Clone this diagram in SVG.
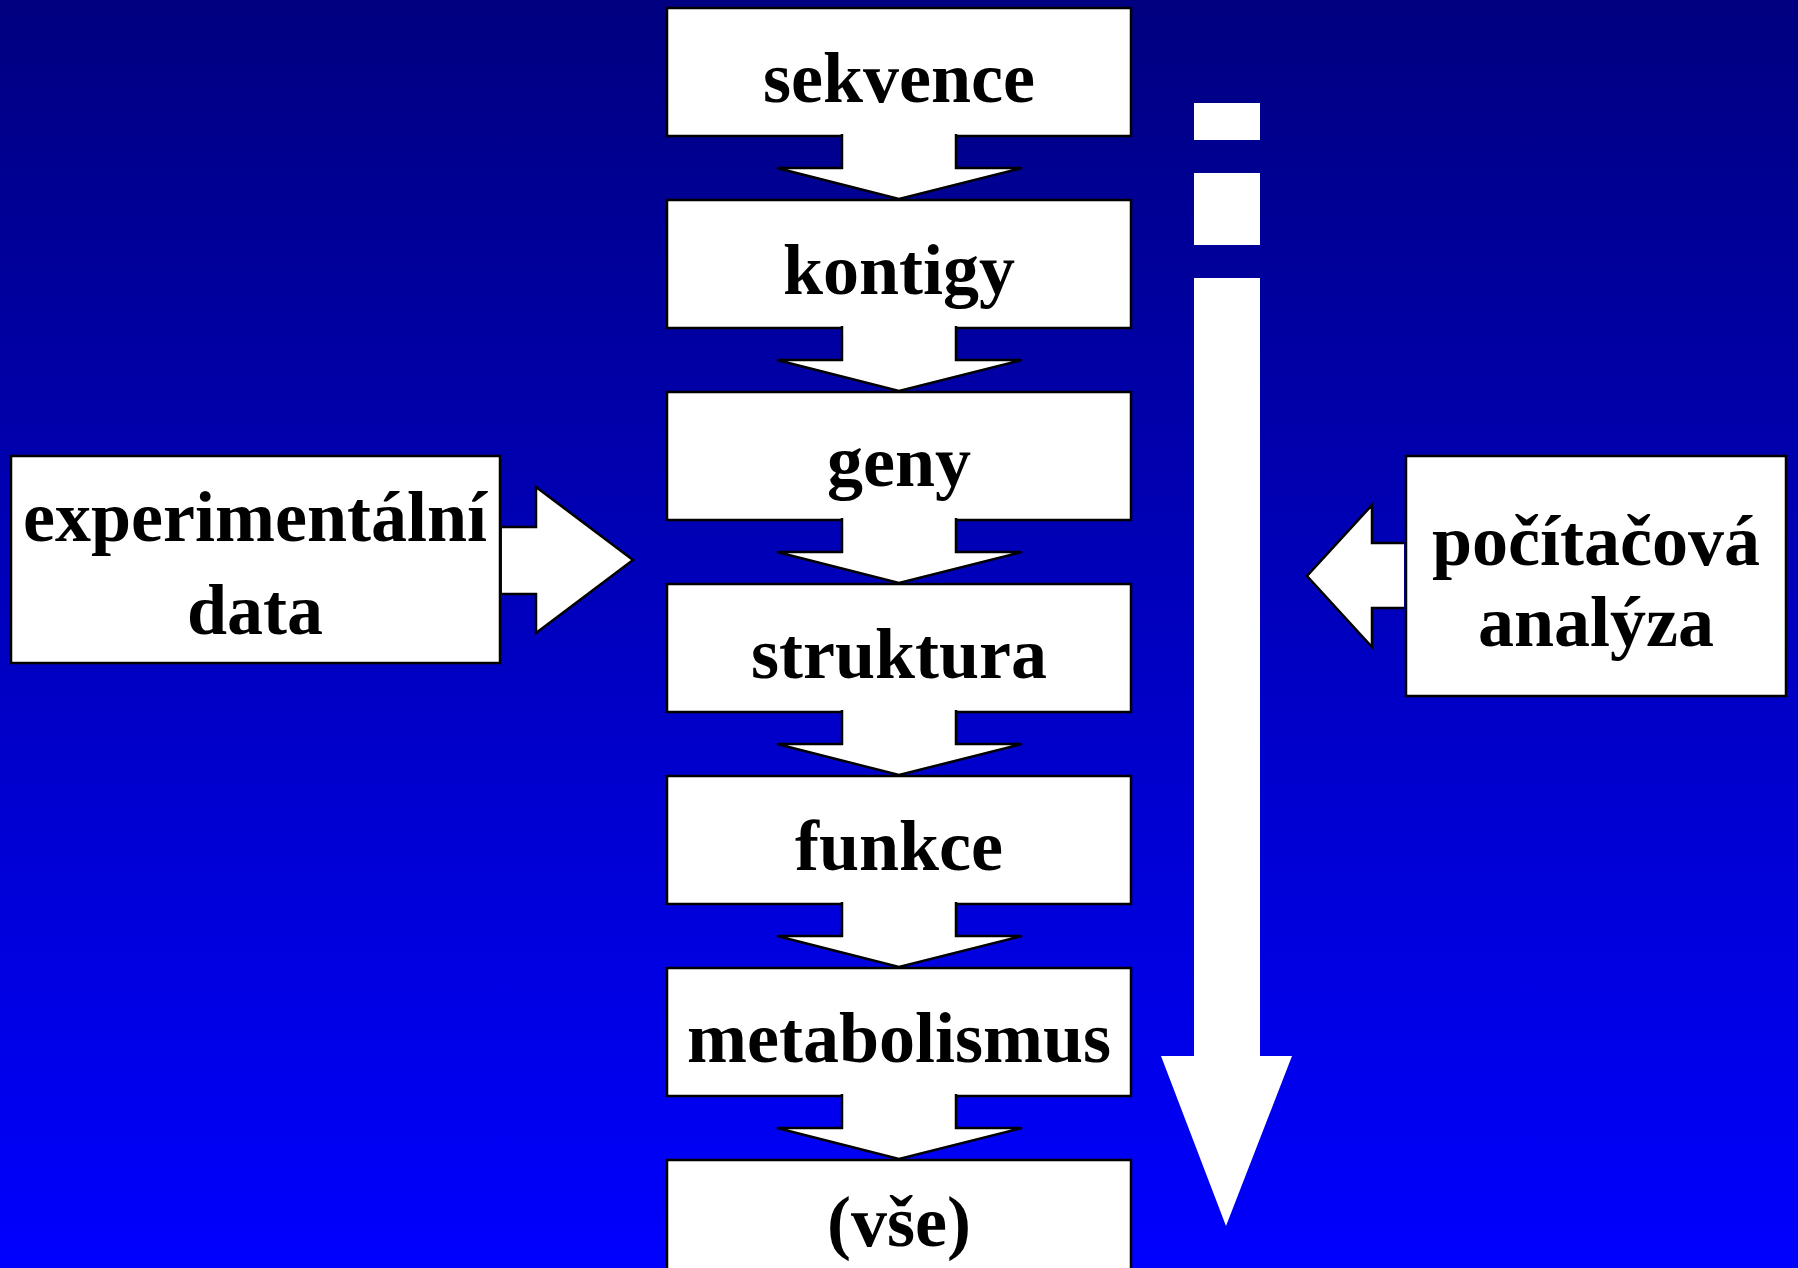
<svg xmlns="http://www.w3.org/2000/svg" width="1798" height="1268" viewBox="0 0 1798 1268">
  <defs>
    <linearGradient id="bg" x1="0" y1="0" x2="0" y2="1">
      <stop offset="0" stop-color="#000080"/>
      <stop offset="1" stop-color="#0000FF"/>
    </linearGradient>
    <style>
      .box { fill: #fff; stroke: #000; stroke-width: 2.5; }
      .flow { fill: #fff; stroke: #000; stroke-width: 2.5; stroke-linejoin: miter; }
      .big { fill: #fff; stroke: none; }
      .lbl { font-family: "Liberation Serif", "Times New Roman", serif; font-weight: bold; font-size: 72px; fill: #000; text-anchor: middle; }
    </style>
  </defs>

  <rect x="0" y="0" width="1798" height="1268" fill="url(#bg)"/>

  <!-- chain of stages -->
  <g id="n-sekvence"><rect class="box" x="667" y="8" width="464" height="128"/><text class="lbl" x="899" y="102">sekvence</text></g>
  <g id="n-kontigy"><rect class="box" x="667" y="200" width="464" height="128"/><text class="lbl" x="899" y="294">kontigy</text></g>
  <g id="n-geny"><rect class="box" x="667" y="392" width="464" height="128"/><text class="lbl" x="899" y="486">geny</text></g>
  <g id="n-struktura"><rect class="box" x="667" y="584" width="464" height="128"/><text class="lbl" x="899" y="678">struktura</text></g>
  <g id="n-funkce"><rect class="box" x="667" y="776" width="464" height="128"/><text class="lbl" x="899" y="870">funkce</text></g>
  <g id="n-metabolismus"><rect class="box" x="667" y="968" width="464" height="128"/><text class="lbl" x="899" y="1062">metabolismus</text></g>
  <g id="n-vse"><rect class="box" x="667" y="1160" width="464" height="140"/><text class="lbl" x="899" y="1246">(vše)</text></g>

  <!-- side inputs -->
  <g id="n-experimentalni">
    <rect class="box" x="11" y="456" width="489" height="207"/>
    <text class="lbl" x="255" y="541">experimentální</text>
    <text class="lbl" x="255" y="634">data</text>
  </g>
  <g id="n-pocitacova">
    <rect class="box" x="1406" y="456" width="380" height="240"/>
    <text class="lbl" x="1596" y="565">počítačová</text>
    <text class="lbl" x="1596" y="646">analýza</text>
  </g>

  <!-- connectors -->
  <g id="connectors">
    <path class="flow" d="M842,134 V168 H777 L899,199 L1022,168 H956 V134"/>
    <path class="flow" d="M842,326 V360 H777 L899,391 L1022,360 H956 V326"/>
    <path class="flow" d="M842,518 V552 H777 L899,583 L1022,552 H956 V518"/>
    <path class="flow" d="M842,710 V744 H777 L899,775 L1022,744 H956 V710"/>
    <path class="flow" d="M842,902 V936 H777 L899,967 L1022,936 H956 V902"/>
    <path class="flow" d="M842,1094 V1128 H777 L899,1159 L1022,1128 H956 V1094"/>

    <path class="flow" d="M502,527 H536 V487 L633,560 L536,633 V594 H502"/>
    <path class="flow" d="M1404,543 H1372 V505 L1307,576 L1372,647 V608 H1404"/>

    <!-- dashed downward arrow -->
    <rect class="big" x="1194" y="103" width="66" height="37"/>
    <rect class="big" x="1194" y="173" width="66" height="72"/>
    <path class="big" d="M1194,278 H1260 V1056 H1292 L1226,1226 L1161,1056 H1194 Z"/>
  </g>
</svg>
